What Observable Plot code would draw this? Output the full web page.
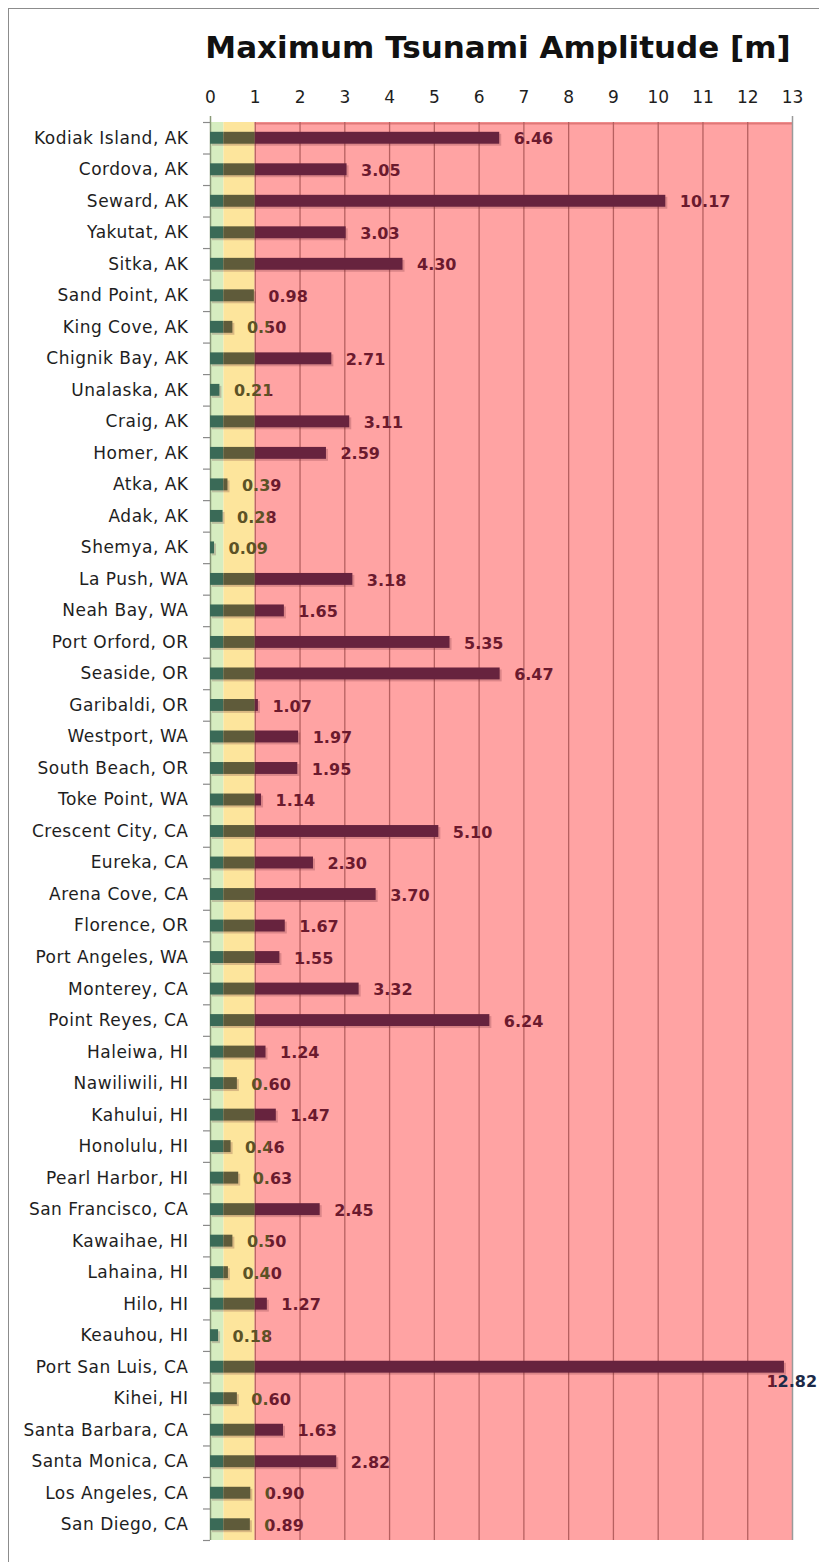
<!DOCTYPE html>
<html>
<head>
<meta charset="utf-8">
<script src="https://cdn.jsdelivr.net/npm/d3@7"></script>
<script src="https://cdn.jsdelivr.net/npm/@observablehq/plot@0.6"></script>
<style>
  html, body { margin: 0; padding: 0; background: #fff; overflow: hidden; }
  #frame { position: absolute; left: 8px; top: 8px; width: 900px; height: 1700px; border: 1px solid #8c8c8c; }
  #title { position: absolute; top: 32px; left: 498px; transform: translateX(-50%); white-space: nowrap;
           font-family: "DejaVu Sans", sans-serif; font-weight: bold; font-size: 31px; line-height: 1; color: #111; }
  #chart { position: absolute; left: 0; top: 0; }
  g[aria-label="y-axis tick label"] text { letter-spacing: 0.5px; }
</style>
</head>
<body>
<div id="frame"></div>
<div id="chart"></div>
<div id="title">Maximum Tsunami Amplitude [m]</div>
<script>
// ---- data ----
const stations = [
  "Kodiak Island, AK", "Cordova, AK", "Seward, AK", "Yakutat, AK", "Sitka, AK",
  "Sand Point, AK", "King Cove, AK", "Chignik Bay, AK", "Unalaska, AK", "Craig, AK",
  "Homer, AK", "Atka, AK", "Adak, AK", "Shemya, AK", "La Push, WA",
  "Neah Bay, WA", "Port Orford, OR", "Seaside, OR", "Garibaldi, OR", "Westport, WA",
  "South Beach, OR", "Toke Point, WA", "Crescent City, CA", "Eureka, CA", "Arena Cove, CA",
  "Florence, OR", "Port Angeles, WA", "Monterey, CA", "Point Reyes, CA", "Haleiwa, HI",
  "Nawiliwili, HI", "Kahului, HI", "Honolulu, HI", "Pearl Harbor, HI", "San Francisco, CA",
  "Kawaihae, HI", "Lahaina, HI", "Hilo, HI", "Keauhou, HI", "Port San Luis, CA",
  "Kihei, HI", "Santa Barbara, CA", "Santa Monica, CA", "Los Angeles, CA", "San Diego, CA"
];
const amplitudes = [
  6.46, 3.05, 10.17, 3.03, 4.30,
  0.98, 0.50, 2.71, 0.21, 3.11,
  2.59, 0.39, 0.28, 0.09, 3.18,
  1.65, 5.35, 6.47, 1.07, 1.97,
  1.95, 1.14, 5.10, 2.30, 3.70,
  1.67, 1.55, 3.32, 6.24, 1.24,
  0.60, 1.47, 0.46, 0.63, 2.45,
  0.50, 0.40, 1.27, 0.18, 12.82,
  0.60, 1.63, 2.82, 0.90, 0.89
];
const xTicks = [0, 1, 2, 3, 4, 5, 6, 7, 8, 9, 10, 11, 12, 13];
const gridValues = [1, 2, 3, 4, 5, 6, 7, 8, 9, 10, 11, 12];
const zoneStarts = [0, 0.3, 1];
const zoneEnds = [0.3, 1, 13];

// ---- styles ----
const zoneFills = ["#d6edc0", "#fde59c", "#ffa3a3"];
const barFills = ["#3a6a57", "#5f5b3a", "#67233e"];

const rows = stations.map((s, i) => ({station: s, value: amplitudes[i]}));
const zones = zoneStarts.map((s, i) => ({from: s, to: zoneEnds[i], fill: zoneFills[i]}));

const W = 819, H = 1562, mT = 122, mB = 22, mL = 210, mR = 27;
const bw = (H - mT - mB) / stations.length;
const maxV = d3.max(xTicks);

const barMarks = zoneStarts.map((z0, zi) =>
  Plot.barX(rows.filter(d => d.value > z0), {
    y: "station",
    x1: () => z0,
    x2: d => Math.min(d.value, zoneEnds[zi]),
    fill: barFills[zi],
    insetTop: 9.8, insetBottom: 9.8
  })
);

function labelMarks(fill) {
  return [
    Plot.text(rows.filter(d => d.value < 12), {
      y: "station", x: "value", text: d => d.value.toFixed(2),
      textAnchor: "start", dx: 14, dy: 1, fill, fontSize: 16, fontWeight: "bold"
    }),
    Plot.text(rows.filter(d => d.value >= 12), {
      y: "station", x: "value", text: d => d.value.toFixed(2),
      textAnchor: "start", dx: -18, dy: 15, fill, fontSize: 16, fontWeight: "bold"
    })
  ];
}

const chart = Plot.plot({
  width: W, height: H,
  marginTop: mT, marginBottom: mB, marginLeft: mL, marginRight: mR,
  style: {fontFamily: "DejaVu Sans, sans-serif", background: "transparent", overflow: "visible"},
  x: {domain: [0, maxV], axis: null},
  y: {domain: stations, padding: 0, round: false, axis: null},
  marks: [
    Plot.rect(zones, {x1: "from", x2: "to", fill: "fill"}),
    Plot.ruleY([stations[0]], {dy: -bw / 2 + 1, x1: 1, x2: maxV, stroke: "#e07878", strokeWidth: 2}),
    Plot.ruleX(gridValues, {stroke: "#b66060", strokeWidth: 1.3}),
    Plot.ruleX([maxV], {stroke: "#9a9a9a", strokeWidth: 1.5, insetTop: -6}),
    Plot.ruleX([0], {stroke: "#8a9a78", strokeWidth: 1.5, insetTop: -6}),
    Plot.ruleY(stations, {dy: -bw / 2, x1: 0, x2: 0, insetLeft: -7, stroke: "#8a8a8a", strokeWidth: 1.2}),
    Plot.ruleY([stations[stations.length - 1]], {dy: bw / 2, x1: 0, x2: 0, insetLeft: -7, stroke: "#8a8a8a", strokeWidth: 1.2}),
    Plot.axisX(xTicks, {anchor: "top", tickSize: 0, tickPadding: 20, fontSize: 17, fill: "#1e1e1e", label: null}),
    Plot.axisY({tickSize: 0, tickPadding: 22, fontSize: 17, fill: "#1e1e1e", label: null}),
    Plot.barX(rows, {y: "station", x: "value", fill: "#5a1a2a", fillOpacity: 0.22,
      insetTop: 9.8, insetBottom: 9.8, dx: 2, dy: 2}),
    ...barMarks,
    ...labelMarks("#5c5226"),
    ...labelMarks("#6b1a2e"),
    ...labelMarks("#1c2a48")
  ]
});

document.getElementById("chart").appendChild(chart);

// colour the value labels by the zone beneath them (olive, maroon, navy groups in mark order)
const xs = v => mL + v * (W - mL - mR) / maxV;
const svg = d3.select(chart);
const defs = svg.insert("defs", ":first-child");
const clipRegions = [
  {id: "clip-olive", x0: 0, x1: xs(1)},
  {id: "clip-maroon", x0: xs(1), x1: xs(maxV)},
  {id: "clip-navy", x0: xs(maxV), x1: W + 50}
];
clipRegions.forEach(r => {
  defs.append("clipPath").attr("id", r.id)
    .append("rect").attr("x", r.x0).attr("y", 0).attr("width", r.x1 - r.x0).attr("height", H);
});
const textGroups = svg.selectAll('g[aria-label="text"]').nodes();
textGroups.forEach((g, i) => {
  const r = clipRegions[Math.floor(i / 2)];
  if (r) g.setAttribute("clip-path", `url(#${r.id})`);
});
</script>
</body>
</html>
